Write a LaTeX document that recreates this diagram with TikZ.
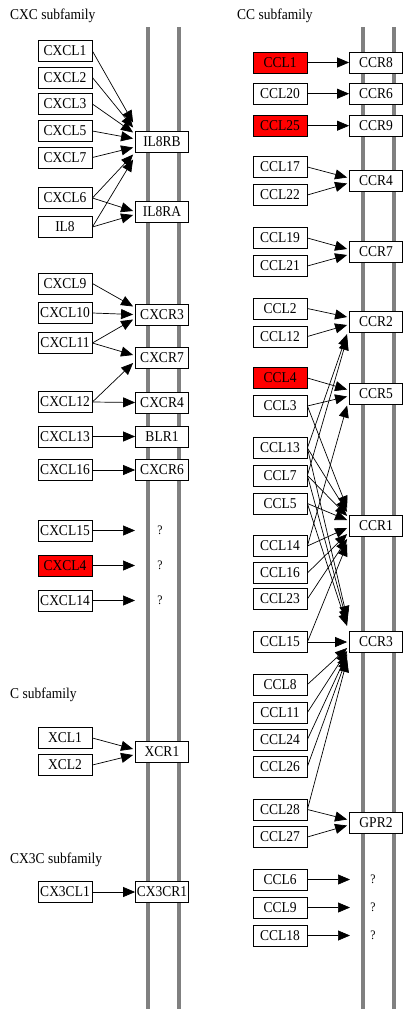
\documentclass[tikz,border=0pt]{standalone}
\usepackage{fontspec}
\setmainfont{Liberation Serif}[FakeStretch=0.9]
\usetikzlibrary{arrows.meta,calc}
% ligand -> receptor link; #3 moves the tip along the receptor's left edge
\newcommand\lk[3]{\draw[arr] (#1.east) -- ($(#2.west)+(-2,#3)$);}
\newcommand\lkone[2]{\draw[arr] (#1.east) -- (#2.west);}
\begin{document}
\begin{tikzpicture}[x=1pt,y=-1pt,
  gene/.style={draw,line width=0.8pt,fill=white,minimum width=54pt,minimum height=21pt,
    inner sep=0pt,font=\fontsize{15}{15}\selectfont},
  hit/.style={gene,fill=red},
  rcpt/.style={gene,minimum width=53pt},
  memb/.style={line width=4pt,draw=gray},
  arr/.style={line width=0.7pt,-{Triangle[length=12pt,width=10pt]}},
  lbl/.style={font=\fontsize{15}{15}\selectfont,inner sep=0pt,anchor=west},
  qm/.style={font=\fontsize{13}{13}\selectfont,inner sep=0pt}]
\useasboundingbox[fill=white] (0,0) rectangle (403,1009);

% membranes
\draw[memb] (148,27) -- (148,1009);
\draw[memb] (179,27) -- (179,1009);
\draw[memb] (363,27) -- (363,1009);
\draw[memb] (394,27) -- (394,1009);

% ---------------- CXC subfamily ----------------
\node[lbl] (tcxc) at (10,16) {CXC subfamily};
\node[gene] (cxcl1)  at (65,51)    {CXCL1};
\node[gene] (cxcl2)  at (65,77.5)  {CXCL2};
\node[gene] (cxcl3)  at (65,104)   {CXCL3};
\node[gene] (cxcl5)  at (65,131)   {CXCL5};
\node[gene] (cxcl7)  at (65,157.5) {CXCL7};
\node[gene] (cxcl6)  at (65,198)   {CXCL6};
\node[gene] (il8)    at (65,227)   {IL8};
\node[gene] (cxcl9)  at (65,283.5) {CXCL9};
\node[gene] (cxcl10) at (65,313)   {CXCL10};
\node[gene] (cxcl11) at (65,343)   {CXCL11};
\node[gene] (cxcl12) at (65,402)   {CXCL12};
\node[gene] (cxcl13) at (65,436.5) {CXCL13};
\node[gene] (cxcl16) at (65,470)   {CXCL16};
\node[gene] (cxcl15) at (65,530.5) {CXCL15};
\node[hit]  (cxcl4)  at (65,565.5) {CXCL4};
\node[gene] (cxcl14) at (65,600.5) {CXCL14};

\node[rcpt] (il8rb) at (162,141.5) {IL8RB};
\node[rcpt] (il8ra) at (162,212)   {IL8RA};
\node[rcpt] (cxcr3) at (162,314.5) {CXCR3};
\node[rcpt] (cxcr7) at (162,358)   {CXCR7};
\node[rcpt] (cxcr4) at (162,402.5) {CXCR4};
\node[rcpt] (blr1)  at (162,436.5) {BLR1};
\node[rcpt] (cxcr6) at (162,470)   {CXCR6};

\coordinate (qa) at (135,530.5);
\coordinate (qb) at (135,565.5);
\coordinate (qc) at (135,600.5);
\node[qm] (qma) at (160,530.5) {?};
\node[qm] (qmb) at (160,565.5) {?};
\node[qm] (qmc) at (160,600.5) {?};

\lk{cxcl1}{il8rb}{-19}
\lk{cxcl2}{il8rb}{-14}
\lk{cxcl3}{il8rb}{-9}
\lk{cxcl5}{il8rb}{-3}
\lk{cxcl7}{il8rb}{6}
\lk{cxcl6}{il8rb}{13}
\lk{il8}{il8rb}{18}
\lk{cxcl6}{il8ra}{-1}
\lk{il8}{il8ra}{3}
\lk{cxcl9}{cxcr3}{-8}
\lk{cxcl10}{cxcr3}{0}
\lk{cxcl11}{cxcr3}{5}
\lk{cxcl11}{cxcr7}{-3}
\lk{cxcl12}{cxcr7}{5}
\lkone{cxcl12}{cxcr4}
\lkone{cxcl13}{blr1}
\lkone{cxcl16}{cxcr6}
\draw[arr] (cxcl15.east) -- (qa);
\draw[arr] (cxcl4.east) -- (qb);
\draw[arr] (cxcl14.east) -- (qc);

% ---------------- C subfamily ----------------
\node[lbl] (tc) at (10,695) {C subfamily};
\node[gene] (xcl1) at (65,738) {XCL1};
\node[gene] (xcl2) at (65,765) {XCL2};
\node[rcpt] (xcr1) at (162,752) {XCR1};
\lk{xcl1}{xcr1}{-3}
\lk{xcl2}{xcr1}{3}

% ---------------- CX3C subfamily ----------------
\node[lbl] (tcx3c) at (10,860) {CX3C subfamily};
\node[gene] (cx3cl1) at (65,892) {CX3CL1};
\node[rcpt] (cx3cr1) at (162,892) {CX3CR1};
\lkone{cx3cl1}{cx3cr1}

% ---------------- CC subfamily ----------------
\node[lbl] (tcc) at (237,16) {CC subfamily};
\node[hit]  (ccl1)  at (280,62.5)  {CCL1};
\node[gene] (ccl20) at (280,93.7)  {CCL20};
\node[hit]  (ccl25) at (280,125.7) {CCL25};
\node[gene] (ccl17) at (280,167)   {CCL17};
\node[gene] (ccl22) at (280,195)   {CCL22};
\node[gene] (ccl19) at (280,238)   {CCL19};
\node[gene] (ccl21) at (280,266)   {CCL21};
\node[gene] (ccl2)  at (280,308.5) {CCL2};
\node[gene] (ccl12) at (280,336.5) {CCL12};
\node[hit]  (ccl4)  at (280,378)   {CCL4};
\node[gene] (ccl3)  at (280,406)   {CCL3};
\node[gene] (ccl13) at (280,448)   {CCL13};
\node[gene] (ccl7)  at (280,475.5) {CCL7};
\node[gene] (ccl5)  at (280,503.5) {CCL5};
\node[gene] (ccl14) at (280,546)   {CCL14};
\node[gene] (ccl16) at (280,573)   {CCL16};
\node[gene] (ccl23) at (280,599)   {CCL23};
\node[gene] (ccl15) at (280,642)   {CCL15};
\node[gene] (ccl8)  at (280,684.5) {CCL8};
\node[gene] (ccl11) at (280,712.5) {CCL11};
\node[gene] (ccl24) at (280,739.5) {CCL24};
\node[gene] (ccl26) at (280,766.5) {CCL26};
\node[gene] (ccl28) at (280,809.5) {CCL28};
\node[gene] (ccl27) at (280,837)   {CCL27};
\node[gene] (ccl6)  at (280,879.5) {CCL6};
\node[gene] (ccl9)  at (280,907.5) {CCL9};
\node[gene] (ccl18) at (280,935.5) {CCL18};

\node[rcpt] (ccr8) at (376,62.5)  {CCR8};
\node[rcpt] (ccr6) at (376,93.7)  {CCR6};
\node[rcpt] (ccr9) at (376,125.7) {CCR9};
\node[rcpt] (ccr4) at (376,180.5) {CCR4};
\node[rcpt] (ccr7) at (376,252)   {CCR7};
\node[rcpt] (ccr2) at (376,322)   {CCR2};
\node[rcpt] (ccr5) at (376,393.5) {CCR5};
\node[rcpt] (ccr1) at (376,526)   {CCR1};
\node[rcpt] (ccr3) at (376,642)   {CCR3};
\node[rcpt] (gpr2) at (376,822.5) {GPR2};

\coordinate (qd) at (350,879.5);
\coordinate (qe) at (350,907.5);
\coordinate (qf) at (350,935.5);
\node[qm] (qmd) at (373,879.5) {?};
\node[qm] (qme) at (373,907.5) {?};
\node[qm] (qmf) at (373,935.5) {?};

\lkone{ccl1}{ccr8}
\lkone{ccl20}{ccr6}
\lkone{ccl25}{ccr9}
\lk{ccl17}{ccr4}{-3}
\lk{ccl22}{ccr4}{3}
\lk{ccl19}{ccr7}{-3}
\lk{ccl21}{ccr7}{3}
% CCR2
\lk{ccl2}{ccr2}{-5}
\lk{ccl12}{ccr2}{3}
\lk{ccl13}{ccr2}{12}
\lk{ccl7}{ccr2}{16}
% CCR5
\lk{ccl4}{ccr5}{-4}
\lk{ccl3}{ccr5}{3}
\lk{ccl14}{ccr5}{12}
% CCR1
\lk{ccl3}{ccr1}{-18}
\lk{ccl13}{ccr1}{-14}
\lk{ccl7}{ccr1}{-10}
\lk{ccl5}{ccr1}{-6}
\lk{ccl14}{ccr1}{2}
\lk{ccl16}{ccr1}{8}
\lk{ccl23}{ccr1}{13}
\lk{ccl15}{ccr1}{18}
% CCR3
\lk{ccl13}{ccr3}{-24}
\lk{ccl7}{ccr3}{-20}
\lk{ccl5}{ccr3}{-16}
\lk{ccl15}{ccr3}{0}
\lk{ccl8}{ccr3}{6}
\lk{ccl11}{ccr3}{9}
\lk{ccl24}{ccr3}{12}
\lk{ccl26}{ccr3}{15}
\lk{ccl28}{ccr3}{18}
% GPR2
\lk{ccl28}{gpr2}{-3}
\lk{ccl27}{gpr2}{3}
% orphan ligands
\draw[arr] (ccl6.east) -- (qd);
\draw[arr] (ccl9.east) -- (qe);
\draw[arr] (ccl18.east) -- (qf);
\end{tikzpicture}
\end{document}
